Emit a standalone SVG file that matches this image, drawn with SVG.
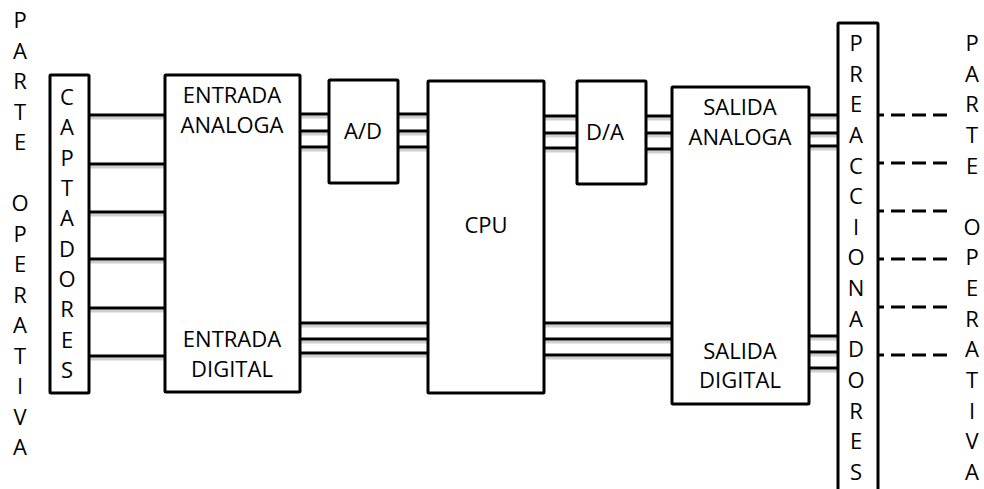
<svg xmlns="http://www.w3.org/2000/svg" width="984" height="489" viewBox="0 0 984 489">
<style>
.box{fill:#fff;stroke:#000;stroke-width:3}
.t{font-family:"Open Sans","Liberation Sans",sans-serif;font-size:22px;fill:#000;text-anchor:middle}
.w{stroke:#000;stroke-width:3;fill:none}
.sh{stroke:#cfcfcf;stroke-width:3;fill:none}
.d{stroke:#000;stroke-width:3;fill:none;stroke-dasharray:14 7}
</style>
<rect width="984" height="489" fill="#fff"/>
<g id="connectors">
  <g id="shadows">
    <path class="sh" d="M89 118H165M89 167H165M89 215H165M89 262H165M89 311H165M89 359H165"/>
    <path class="sh" d="M300 117H329M300 134H329M300 150H329M398 117H428M398 134H428M398 150H428"/>
    <path class="sh" d="M300 326H428M300 342H428M300 356H428"/>
    <path class="sh" d="M544 119H577M544 136H577M544 151H577M646 119H672M646 136H672M646 152H672"/>
    <path class="sh" d="M544 326H672M544 342H672M544 358H672"/>
    <path class="sh" d="M809 118H838M809 136H838M809 149H838M809 339H838M809 355H838M809 371H838"/>
  </g>
  <path class="w" d="M89 115H165M89 164H165M89 212H165M89 259H165M89 308H165M89 356H165"/>
  <path class="w" d="M300 114H329M300 131H329M300 147H329"/>
  <path class="w" d="M398 114H428M398 131H428M398 147H428"/>
  <path class="w" d="M300 323H428M300 339H428M300 353H428"/>
  <path class="w" d="M544 116H577M544 133H577M544 148H577"/>
  <path class="w" d="M646 116H672M646 133H672M646 149H672"/>
  <path class="w" d="M544 323H672M544 339H672M544 355H672"/>
  <path class="w" d="M809 115H838M809 133H838M809 146H838"/>
  <path class="w" d="M809 336H838M809 352H838M809 368H838"/>
  <path class="d" d="M947 115H874M947 163H874M947 211H874M947 259H874M947 307H874M947 355H874"/>
</g>
<g id="parte-operativa-izq">
  <text class="t" y="28"><tspan x="20">P</tspan><tspan x="20" dy="30.5">A</tspan><tspan x="20" dy="30.5">R</tspan><tspan x="20" dy="30.5">T</tspan><tspan x="20" dy="30.5">E</tspan><tspan x="20" dy="61">O</tspan><tspan x="20" dy="30.5">P</tspan><tspan x="20" dy="30.5">E</tspan><tspan x="20" dy="30.5">R</tspan><tspan x="20" dy="30.5">A</tspan><tspan x="20" dy="30.5">T</tspan><tspan x="20" dy="30.5">I</tspan><tspan x="20" dy="30.5">V</tspan><tspan x="20" dy="30.5">A</tspan></text>
</g>
<g id="captadores">
  <rect class="box" x="50" y="75" width="39" height="318" rx="1"/>
  <text class="t" y="105"><tspan x="67">C</tspan><tspan x="67" dy="30.33">A</tspan><tspan x="67" dy="30.33">P</tspan><tspan x="67" dy="30.33">T</tspan><tspan x="67" dy="30.33">A</tspan><tspan x="67" dy="30.33">D</tspan><tspan x="67" dy="30.33">O</tspan><tspan x="67" dy="30.33">R</tspan><tspan x="67" dy="30.33">E</tspan><tspan x="67" dy="30.33">S</tspan></text>
</g>
<g id="entrada">
  <rect class="box" x="165" y="75" width="135" height="317" rx="1"/>
  <text class="t" x="232" y="103">ENTRADA</text>
  <text class="t" x="232" y="133">ANALOGA</text>
  <text class="t" x="232" y="347">ENTRADA</text>
  <text class="t" x="232" y="377">DIGITAL</text>
</g>
<g id="ad">
  <rect class="box" x="329" y="80" width="69" height="103" rx="1"/>
  <text class="t" x="363" y="139">A/D</text>
</g>
<g id="cpu">
  <rect class="box" x="428" y="81" width="116" height="312" rx="1"/>
  <text class="t" x="486" y="233">CPU</text>
</g>
<g id="da">
  <rect class="box" x="577" y="81" width="69" height="103" rx="1"/>
  <text class="t" x="605" y="140">D/A</text>
</g>
<g id="salida">
  <rect class="box" x="672" y="87" width="137" height="317" rx="1"/>
  <text class="t" x="740" y="115">SALIDA</text>
  <text class="t" x="740" y="145">ANALOGA</text>
  <text class="t" x="740" y="359">SALIDA</text>
  <text class="t" x="740" y="388">DIGITAL</text>
</g>
<g id="preaccionadores">
  <rect class="box" x="838" y="23" width="40" height="480" rx="1"/>
  <text class="t" y="51"><tspan x="856">P</tspan><tspan x="856" dy="30.64">R</tspan><tspan x="856" dy="30.64">E</tspan><tspan x="856" dy="30.64">A</tspan><tspan x="856" dy="30.64">C</tspan><tspan x="856" dy="30.64">C</tspan><tspan x="856" dy="30.64">I</tspan><tspan x="856" dy="30.64">O</tspan><tspan x="856" dy="30.64">N</tspan><tspan x="856" dy="30.64">A</tspan><tspan x="856" dy="30.64">D</tspan><tspan x="856" dy="30.64">O</tspan><tspan x="856" dy="30.64">R</tspan><tspan x="856" dy="30.64">E</tspan><tspan x="856" dy="30.64">S</tspan></text>
</g>
<g id="parte-operativa-der">
  <text class="t" y="51"><tspan x="972">P</tspan><tspan x="972" dy="30.64">A</tspan><tspan x="972" dy="30.64">R</tspan><tspan x="972" dy="30.64">T</tspan><tspan x="972" dy="30.64">E</tspan><tspan x="972" dy="61.28">O</tspan><tspan x="972" dy="30.64">P</tspan><tspan x="972" dy="30.64">E</tspan><tspan x="972" dy="30.64">R</tspan><tspan x="972" dy="30.64">A</tspan><tspan x="972" dy="30.64">T</tspan><tspan x="972" dy="30.64">I</tspan><tspan x="972" dy="30.64">V</tspan><tspan x="972" dy="30.64">A</tspan></text>
</g>
</svg>
